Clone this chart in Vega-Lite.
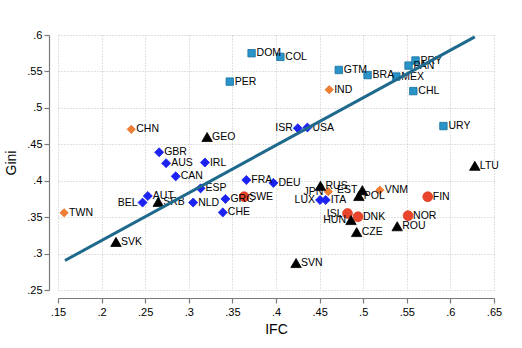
{
  "$schema": "https://vega.github.io/schema/vega-lite/v6.json",
  "autosize": {"type": "none"},
  "width": 436,
  "height": 255,
  "padding": {"left": 58, "top": 35, "right": 28, "bottom": 58},
  "background": "white",
  "config": {
    "view": {"stroke": null},
    "font": "Liberation Sans",
    "axis": {
      "domainColor": "#7a7a7a",
      "domainWidth": 1.2,
      "tickColor": "#7a7a7a",
      "tickWidth": 1.2,
      "tickSize": 5,
      "labelFont": "Liberation Sans",
      "labelFontSize": 11,
      "labelColor": "black",
      "labelOverlap": false,
      "labelFlush": false,
      "titleFont": "Liberation Sans",
      "titleFontSize": 14,
      "titleFontWeight": "normal",
      "titleColor": "black",
      "gridColor": "#c2c2c2",
      "gridDash": [1, 2],
      "gridWidth": 1
    }
  },
  "datasets": {
    "pts": [
      {"iso": "DOM", "ifc": 0.372, "gini": 0.575, "group": "Americas"},
      {"iso": "COL", "ifc": 0.405, "gini": 0.570, "group": "Americas"},
      {"iso": "PER", "ifc": 0.347, "gini": 0.536, "group": "Americas"},
      {"iso": "GTM", "ifc": 0.472, "gini": 0.552, "group": "Americas"},
      {"iso": "BRA", "ifc": 0.505, "gini": 0.545, "group": "Americas"},
      {"iso": "MEX", "ifc": 0.538, "gini": 0.543, "group": "Americas"},
      {"iso": "PAN", "ifc": 0.552, "gini": 0.558, "group": "Americas"},
      {"iso": "PRY", "ifc": 0.560, "gini": 0.565, "group": "Americas"},
      {"iso": "CHL", "ifc": 0.5575, "gini": 0.523, "group": "Americas"},
      {"iso": "URY", "ifc": 0.592, "gini": 0.475, "group": "Americas"},
      {"iso": "CHN", "ifc": 0.234, "gini": 0.4705, "group": "Asia"},
      {"iso": "IND", "ifc": 0.461, "gini": 0.525, "group": "Asia"},
      {"iso": "TWN", "ifc": 0.157, "gini": 0.356, "group": "Asia"},
      {"iso": "JPN", "ifc": 0.460, "gini": 0.385, "group": "Asia"},
      {"iso": "VNM", "ifc": 0.519, "gini": 0.387, "group": "Asia"},
      {"iso": "GBR", "ifc": 0.266, "gini": 0.439, "group": "Western"},
      {"iso": "AUS", "ifc": 0.274, "gini": 0.424, "group": "Western"},
      {"iso": "IRL", "ifc": 0.3185, "gini": 0.425, "group": "Western"},
      {"iso": "CAN", "ifc": 0.285, "gini": 0.406, "group": "Western"},
      {"iso": "BEL", "ifc": 0.247, "gini": 0.370, "group": "Western"},
      {"iso": "AUT", "ifc": 0.253, "gini": 0.379, "group": "Western"},
      {"iso": "ESP", "ifc": 0.3135, "gini": 0.3895, "group": "Western"},
      {"iso": "NLD", "ifc": 0.305, "gini": 0.370, "group": "Western"},
      {"iso": "GRC", "ifc": 0.342, "gini": 0.375, "group": "Western"},
      {"iso": "CHE", "ifc": 0.339, "gini": 0.3565, "group": "Western"},
      {"iso": "FRA", "ifc": 0.366, "gini": 0.401, "group": "Western"},
      {"iso": "DEU", "ifc": 0.397, "gini": 0.397, "group": "Western"},
      {"iso": "ISR", "ifc": 0.425, "gini": 0.472, "group": "Western"},
      {"iso": "USA", "ifc": 0.436, "gini": 0.473, "group": "Western"},
      {"iso": "LUX", "ifc": 0.4505, "gini": 0.3735, "group": "Western"},
      {"iso": "ITA", "ifc": 0.457, "gini": 0.3735, "group": "Western"},
      {"iso": "SWE", "ifc": 0.3635, "gini": 0.378, "group": "Nordic"},
      {"iso": "FIN", "ifc": 0.574, "gini": 0.378, "group": "Nordic"},
      {"iso": "ISL", "ifc": 0.482, "gini": 0.355, "group": "Nordic"},
      {"iso": "DNK", "ifc": 0.494, "gini": 0.3505, "group": "Nordic"},
      {"iso": "NOR", "ifc": 0.5515, "gini": 0.352, "group": "Nordic"},
      {"iso": "GEO", "ifc": 0.321, "gini": 0.460, "group": "Eastern"},
      {"iso": "SRB", "ifc": 0.265, "gini": 0.371, "group": "Eastern"},
      {"iso": "SVK", "ifc": 0.2165, "gini": 0.316, "group": "Eastern"},
      {"iso": "RUS", "ifc": 0.451, "gini": 0.393, "group": "Eastern"},
      {"iso": "EST", "ifc": 0.499, "gini": 0.387, "group": "Eastern"},
      {"iso": "POL", "ifc": 0.495, "gini": 0.379, "group": "Eastern"},
      {"iso": "HUN", "ifc": 0.486, "gini": 0.346, "group": "Eastern"},
      {"iso": "ROU", "ifc": 0.539, "gini": 0.3375, "group": "Eastern"},
      {"iso": "CZE", "ifc": 0.4925, "gini": 0.3295, "group": "Eastern"},
      {"iso": "SVN", "ifc": 0.423, "gini": 0.287, "group": "Eastern"},
      {"iso": "LTU", "ifc": 0.628, "gini": 0.4205, "group": "Eastern"}
    ],
    "fit": [
      {"ifc": 0.158, "gini": 0.2905},
      {"ifc": 0.628, "gini": 0.5975}
    ]
  },
  "layer": [
    {
      "data": {"name": "pts"},
      "mark": {"type": "point", "filled": true, "opacity": 1, "strokeWidth": 0.8},
      "encoding": {
        "x": {
          "field": "ifc", "type": "quantitative",
          "scale": {"domain": [0.15, 0.65], "nice": false, "zero": false},
          "axis": {
            "title": "IFC",
            "values": [0.15, 0.2, 0.25, 0.3, 0.35, 0.4, 0.45, 0.5, 0.55, 0.6, 0.65],
            "labelExpr": "replace(format(datum.value, '.2~f'), /^0/, '')",
            "offset": 8,
            "labelPadding": 3,
            "titlePadding": 5,
            "labelOverlap": false,
            "grid": true
          }
        },
        "y": {
          "field": "gini", "type": "quantitative",
          "scale": {"domain": [0.25, 0.6], "nice": false, "zero": false},
          "axis": {
            "title": "Gini",
            "values": [0.25, 0.3, 0.35, 0.4, 0.45, 0.5, 0.55, 0.6],
            "labelExpr": "replace(format(datum.value, '.2~f'), /^0/, '')",
            "offset": 9,
            "labelPadding": 2,
            "titlePadding": 8,
            "labelOverlap": false,
            "tickCount": 8,
            "grid": true
          }
        },
        "shape": {
          "field": "group", "type": "nominal", "legend": null,
          "scale": {
            "domain": ["Americas", "Asia", "Western", "Nordic", "Eastern"],
            "range": ["square", "diamond", "diamond", "circle", "triangle-up"]
          }
        },
        "fill": {
          "field": "group", "type": "nominal", "legend": null,
          "scale": {
            "domain": ["Americas", "Asia", "Western", "Nordic", "Eastern"],
            "range": ["#2a93c8", "#ef7f32", "#1c22f0", "#e8452c", "#000000"]
          }
        },
        "stroke": {
          "field": "group", "type": "nominal", "legend": null,
          "scale": {
            "domain": ["Americas", "Asia", "Western", "Nordic", "Eastern"],
            "range": ["#136f9e", "#e4702a", "#1c22f0", "#dd3c24", "#000000"]
          }
        },
        "size": {
          "field": "group", "type": "nominal", "legend": null,
          "scale": {
            "domain": ["Americas", "Asia", "Western", "Nordic", "Eastern"],
            "range": [55, 110, 110, 75, 100]
          }
        }
      }
    },
    {
      "data": {"name": "pts"},
      "transform": [{"filter": {"not": {"field": "iso", "oneOf": ["BEL", "ISR", "LUX", "HUN", "ISL", "JPN", "EST"]}}}],
      "mark": {"type": "text", "align": "left", "baseline": "middle", "dx": 5, "fontSize": 10.5, "color": "black", "font": "Liberation Sans"},
      "encoding": {
        "x": {"field": "ifc", "type": "quantitative"},
        "y": {"field": "gini", "type": "quantitative"},
        "text": {"field": "iso"}
      }
    },
    {
      "data": {"name": "pts"},
      "transform": [{"filter": {"field": "iso", "oneOf": ["BEL", "ISR", "LUX", "HUN", "ISL", "JPN", "EST"]}}],
      "mark": {"type": "text", "align": "right", "baseline": "middle", "dx": -5, "fontSize": 10.5, "color": "black", "font": "Liberation Sans"},
      "encoding": {
        "x": {"field": "ifc", "type": "quantitative"},
        "y": {"field": "gini", "type": "quantitative"},
        "text": {"field": "iso"}
      }
    },
    {
      "data": {"name": "fit"},
      "mark": {"type": "line", "color": "#1f6a8c", "strokeWidth": 3},
      "encoding": {
        "x": {"field": "ifc", "type": "quantitative"},
        "y": {"field": "gini", "type": "quantitative"}
      }
    }
  ]
}
